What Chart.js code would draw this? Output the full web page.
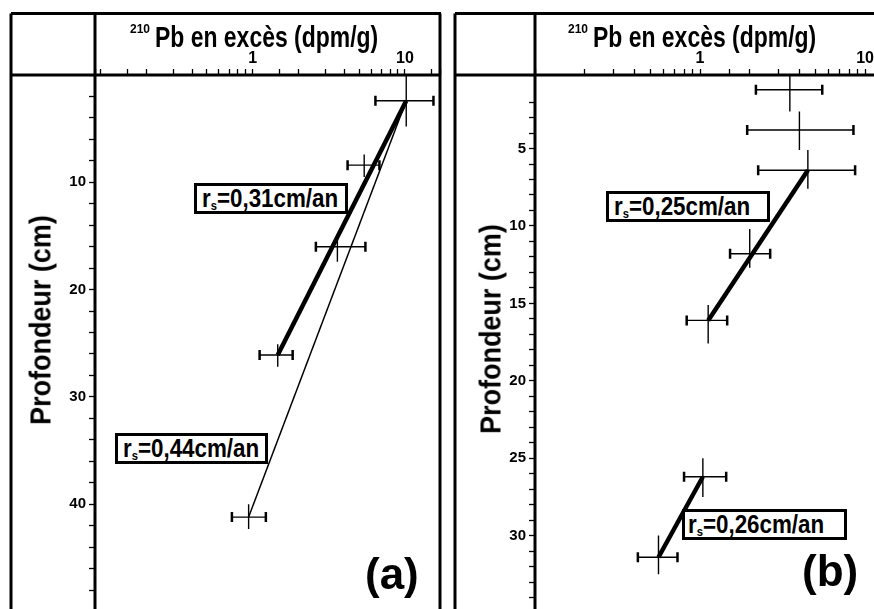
<!DOCTYPE html>
<html lang="fr">
<head>
<meta charset="utf-8">
<title>210Pb en excès - carottes (a) et (b)</title>
<script src="https://cdn.jsdelivr.net/npm/chart.js@4.4.1/dist/chart.umd.min.js"></script>
<style>
  html, body { margin: 0; padding: 0; background: #fff; }
  body { width: 874px; height: 609px; overflow: hidden; position: relative; color: #000;
         font-family: "Liberation Sans", Arial, sans-serif; font-weight: bold; }
  canvas { position: absolute; top: 0; }
  #graficoA { left: 0; }
  #graficoB { left: 440px; }
  .texte { position: absolute; white-space: nowrap; line-height: 1; }
  .titre { font-size: 30px; transform: scaleX(0.765); transform-origin: 0 0; }
  .exposant { font-size: 12px; }
  .axeY { font-size: 29px; transform: translate(-50%, -50%) rotate(-90deg) scaleX(0.93); }
  .taux { position: absolute; box-sizing: border-box; height: 31px; border: 3px solid #000; background: #fff;
          font-size: 26px; line-height: 25px; padding-left: 5px; white-space: nowrap; overflow: hidden; }
  .taux span { display: inline-block; transform: scaleX(0.86); transform-origin: 0 50%; }
  .taux sub { font-size: 13px; vertical-align: -3px; }
  .lettre { font-size: 44px; }
</style>
</head>
<body>
<canvas id="graficoA" width="445" height="640"></canvas>
<canvas id="graficoB" width="450" height="640"></canvas>

<!-- titres de l'axe des x -->
<div class="texte exposant" style="left:130px; top:23px">210</div>
<div class="texte titre" style="left:155px; top:22px">Pb en excès (dpm/g)</div>
<div class="texte exposant" style="left:568px; top:23px">210</div>
<div class="texte titre" style="left:593px; top:22px">Pb en excès (dpm/g)</div>

<!-- titres de l'axe des y -->
<div class="texte axeY" style="left:41px; top:320px">Profondeur (cm)</div>
<div class="texte axeY" style="left:491px; top:329px">Profondeur (cm)</div>

<!-- taux de sédimentation -->
<div class="taux" style="left:194px; top:183px; width:154px"><span>r<sub>s</sub>=0,31cm/an</span></div>
<div class="taux" style="left:115px; top:433px; width:153px"><span>r<sub>s</sub>=0,44cm/an</span></div>
<div class="taux" style="left:606px; top:191px; width:164px"><span>r<sub>s</sub>=0,25cm/an</span></div>
<div class="taux" style="left:682px; top:509px; width:165px; padding-left:3px"><span>r<sub>s</sub>=0,26cm/an</span></div>

<div class="texte lettre" style="left:365px; top:552px">(a)</div>
<div class="texte lettre" style="left:802px; top:549px">(b)</div>

<script>
// --- Carotte (a) : profondeur (cm) et 210Pb en excès (dpm/g) ---
const profA = [2.4, 8.4, 16.0, 26.1, 41.2];
const profA_min = [0, 7.4, 15.0, 25.1, 40.0];
const profA_max = [4.8, 9.5, 17.4, 27.2, 42.3];
const pbA = [10.2, 5.4, 3.6, 1.46, 0.94];
const pbA_min = [6.4, 4.2, 2.6, 1.11, 0.73];
const pbA_max = [15.4, 6.8, 5.5, 1.83, 1.22];
const droiteA_031 = [0, 3]; // indices des points reliés
const droiteA_044 = [0, 4];

// --- Carotte (b) ---
const profB = [1.2, 3.8, 6.4, 11.8, 16.1, 26.2, 31.4];
const profB_min = [0, 2.6, 5.1, 10.2, 15.1, 25.0, 30.0];
const profB_max = [2.6, 5.1, 7.6, 12.7, 17.6, 27.5, 32.5];
const pbB = [3.5, 4.0, 4.5, 2.0, 1.12, 1.04, 0.56];
const pbB_min = [2.18, 1.93, 2.25, 1.52, 0.83, 0.80, 0.42];
const pbB_max = [5.5, 8.5, 8.7, 2.66, 1.46, 1.44, 0.73];
const droiteB_025 = [2, 4];
const droiteB_026 = [5, 6];

// --- Graduations ---
const etiquettesX = [1, 10];
const pasA = 2, etiquetteA = 10;
const pasB = 1, etiquetteB = 5;

const police = '"Liberation Sans", Arial, sans-serif';

function points(pb, prof) {
  return pb.map((x, i) => ({ x: x, y: prof[i] }));
}

function droite(pb, prof, idx) {
  return idx.map(i => ({ x: pb[i], y: prof[i] }));
}

// --- Barres d'erreur (croix) ---
const barresErreur = {
  id: "barresErreur",
  afterDatasetsDraw(chart, args, opts) {
    const { ctx, chartArea, scales: { x, y } } = chart;
    ctx.save();
    ctx.beginPath();
    ctx.rect(chartArea.left, chartArea.top, chartArea.right - chartArea.left, chartArea.bottom - chartArea.top);
    ctx.clip();
    ctx.strokeStyle = "#000";
    opts.pb.forEach((v, i) => {
      const px = x.getPixelForValue(v);
      const py = y.getPixelForValue(opts.prof[i]);
      const x1 = x.getPixelForValue(opts.pbMin[i]);
      const x2 = x.getPixelForValue(opts.pbMax[i]);
      const y1 = y.getPixelForValue(opts.profMin[i]);
      const y2 = y.getPixelForValue(opts.profMax[i]);
      ctx.lineWidth = 1.4;
      ctx.beginPath();
      ctx.moveTo(x1, py); ctx.lineTo(x2, py);
      ctx.moveTo(px, y1); ctx.lineTo(px, y2);
      ctx.stroke();
      ctx.lineWidth = 2.5;
      ctx.beginPath();
      ctx.moveTo(x1, py - 5); ctx.lineTo(x1, py + 5);
      ctx.moveTo(x2, py - 5); ctx.lineTo(x2, py + 5);
      ctx.stroke();
    });
    ctx.restore();
  }
};

// --- Cadre (traits épais) ---
const cadre = {
  id: "cadre",
  afterDraw(chart, args, opts) {
    const { ctx, chartArea, height } = chart;
    ctx.save();
    ctx.strokeStyle = "#000";
    ctx.lineWidth = 3;
    ctx.beginPath();
    ctx.moveTo(opts.gauche, opts.haut); ctx.lineTo(opts.droite, opts.haut);
    ctx.moveTo(opts.gauche, opts.haut); ctx.lineTo(opts.gauche, height);
    ctx.moveTo(opts.gauche, chartArea.top); ctx.lineTo(opts.droite, chartArea.top);
    ctx.moveTo(chartArea.left, opts.haut); ctx.lineTo(chartArea.left, height);
    if (opts.bordDroit) {
      ctx.moveTo(chartArea.right, opts.haut); ctx.lineTo(chartArea.right, height);
    }
    ctx.stroke();
    ctx.restore();
  }
};

function creerGraphique(id, cfg) {
  const ctx = document.getElementById(id).getContext("2d");
  const jeux = [{
    data: points(cfg.pb, cfg.prof),
    pointRadius: 0,
    showLine: false
  }];
  cfg.droites.forEach(d => {
    jeux.push({
      data: droite(cfg.pb, cfg.prof, d.idx),
      showLine: true,
      borderColor: "#000",
      borderWidth: d.epaisseur,
      pointRadius: 0
    });
  });

  return new Chart(ctx, {
    type: "scatter",
    data: { datasets: jeux },
    plugins: [barresErreur, cadre],
    options: {
      responsive: false,
      animation: false,
      devicePixelRatio: 1,
      layout: { padding: { left: 0, top: 0, right: 5, bottom: cfg.basPadding } },
      plugins: {
        legend: { display: false },
        tooltip: { enabled: false },
        barresErreur: {
          pb: cfg.pb, pbMin: cfg.pbMin, pbMax: cfg.pbMax,
          prof: cfg.prof, profMin: cfg.profMin, profMax: cfg.profMax
        },
        cadre: cfg.cadre
      },
      scales: {
        x: {
          type: "logarithmic",
          position: "top",
          min: cfg.xMin,
          max: cfg.xMax,
          border: { display: false },
          grid: { drawOnChartArea: false, drawTicks: true, tickLength: 6, tickColor: "#000", tickWidth: 1.3 },
          ticks: {
            autoSkip: false,
            maxRotation: 0,
            padding: 1,
            color: "#000",
            font: { family: police, size: 16, weight: "bold" },
            callback: v => etiquettesX.includes(v) ? String(v) : ""
          },
          afterFit: s => { s.height = 75; }
        },
        y: {
          type: "linear",
          reverse: true,
          min: cfg.yMin,
          max: cfg.yMax,
          border: { display: false },
          grid: { drawOnChartArea: false, drawTicks: true, tickLength: 6, tickColor: "#000", tickWidth: 1.3 },
          ticks: {
            stepSize: cfg.pas,
            autoSkip: false,
            padding: 3,
            color: "#000",
            font: { family: police, size: 15, weight: "bold" },
            callback: v => (v > cfg.yMin && v < cfg.yMax && v % cfg.etiquette === 0) ? String(v) : ""
          },
          afterFit: s => { s.width = 95; }
        }
      }
    }
  });
}

// --- Initialisation ---
creerGraphique("graficoA", {
  pb: pbA, pbMin: pbA_min, pbMax: pbA_max,
  prof: profA, profMin: profA_min, profMax: profA_max,
  droites: [
    { idx: droiteA_031, epaisseur: 4.5 },
    { idx: droiteA_044, epaisseur: 1.5 }
  ],
  xMin: 0.092, xMax: 17,
  yMin: 0, yMax: 50,
  pas: pasA, etiquette: etiquetteA,
  basPadding: 28.5,
  cadre: { gauche: 11, haut: 13.5, droite: 441, bordDroit: true }
});

creerGraphique("graficoB", {
  pb: pbB, pbMin: pbB_min, pbMax: pbB_max,
  prof: profB, profMin: profB_min, profMax: profB_max,
  droites: [
    { idx: droiteB_025, epaisseur: 4.5 },
    { idx: droiteB_026, epaisseur: 4.5 }
  ],
  xMin: 0.1, xMax: 13.2,
  yMin: 0.25, yMax: 35,
  pas: pasB, etiquette: etiquetteB,
  basPadding: 27,
  cadre: { gauche: 15, haut: 13.5, droite: 450, bordDroit: false }
});
</script>
</body>
</html>
